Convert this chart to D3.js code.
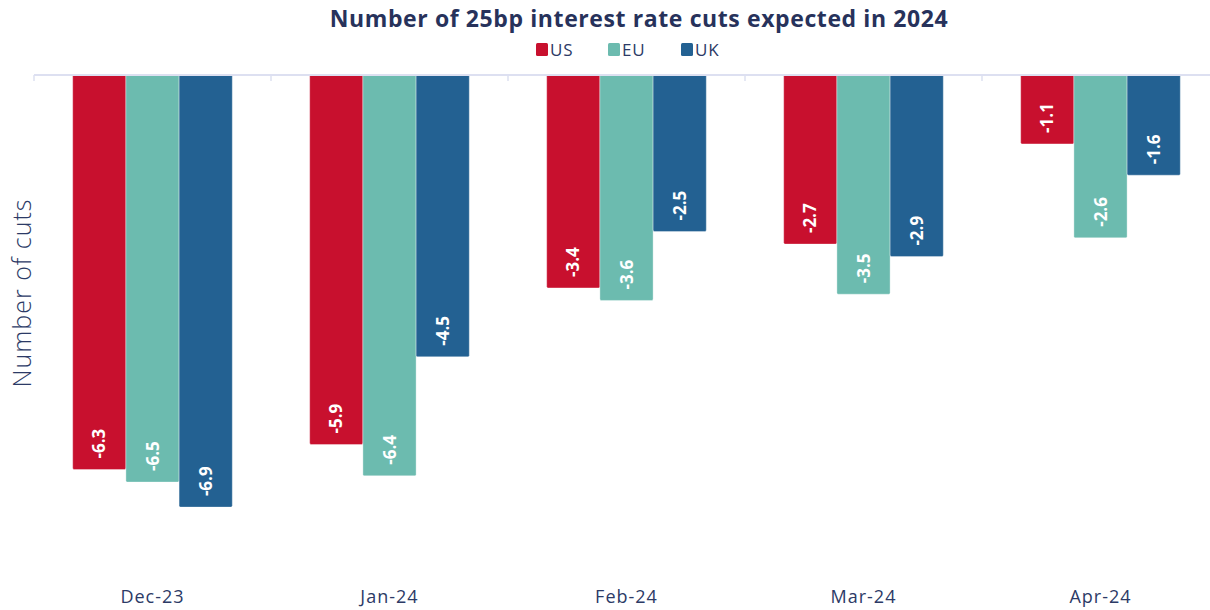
<!DOCTYPE html>
<html>
<head>
<meta charset="utf-8">
<script src="https://cdn.jsdelivr.net/npm/d3@7"></script>
<style>
  body { margin: 0; background: #fff; }
  svg { display: block; font-family: "Open Sans", "Noto Sans", sans-serif; }
</style>
</head>
<body>
<div id="chart"></div>
<script>
// chart data
const months = ["Dec-23", "Jan-24", "Feb-24", "Mar-24", "Apr-24"];
const seriesNames = ["US", "EU", "UK"];
const usCuts = [-6.3, -5.9, -3.4, -2.7, -1.1];
const euCuts = [-6.5, -6.4, -3.6, -3.5, -2.6];
const ukCuts = [-6.9, -4.5, -2.5, -2.9, -1.6];
const colors = ["#c8102e", "#6cbbaf", "#236192"];

const width = 1210, height = 610;
const margin = { top: 75, right: -9, bottom: 34, left: 34 };

const svg = d3.select("#chart").append("svg")
    .attr("width", width)
    .attr("height", height);

const rows = months.map((m, i) => ({
    month: m,
    values: [usCuts[i], euCuts[i], ukCuts[i]]
}));

// scales
const x0 = d3.scaleBand()
    .domain(months)
    .range([margin.left, width - margin.right])
    .paddingInner(0)
    .paddingOuter(0);

const x1 = d3.scaleBand()
    .domain(seriesNames)
    .range([38.7, x0.bandwidth() - 38.7])
    .padding(0);

const y = d3.scaleLinear()
    .domain([-8, 0])
    .range([height - margin.bottom, margin.top]);

// plain hyphen instead of unicode minus
const fmt = v => d3.format(".1f")(v).replace("\u2212", "-");

// title
svg.append("text")
    .attr("x", 639)
    .attr("y", 27)
    .attr("text-anchor", "middle")
    .attr("font-size", 23)
    .attr("font-weight", 700)
    .attr("letter-spacing", 0.6)
    .attr("fill", "#27325b")
    .text("Number of 25bp interest rate cuts expected in 2024");

// legend
const legendX = [536, 608, 681];
const legend = svg.append("g");
seriesNames.forEach((s, i) => {
    legend.append("rect")
        .attr("x", legendX[i])
        .attr("y", 43)
        .attr("width", 12)
        .attr("height", 13)
        .attr("rx", 1.5)
        .attr("fill", colors[i]);
    legend.append("text")
        .attr("x", legendX[i] + 14)
        .attr("y", 56)
        .attr("font-size", 17)
        .attr("letter-spacing", 0.8)
        .attr("fill", "#2c3a66")
        .text(s);
});

// bars
const groups = svg.append("g")
    .selectAll("g")
    .data(rows)
    .join("g")
    .attr("transform", d => `translate(${x0(d.month)},0)`);

groups.selectAll("rect")
    .data(d => d.values.map((v, i) => ({ key: seriesNames[i], value: v, idx: i })))
    .join("rect")
    .attr("x", d => x1(d.key))
    .attr("y", y(0))
    .attr("width", x1.bandwidth())
    .attr("height", d => y(d.value) - y(0))
    .attr("rx", 1.5)
    .attr("fill", d => colors[d.idx])
    .attr("stroke", "rgba(255,255,255,0.35)")
    .attr("stroke-width", 1);

// value labels inside bars, reading upward
groups.selectAll("text.val")
    .data(d => d.values.map((v, i) => ({ key: seriesNames[i], value: v })))
    .join("text")
    .attr("class", "val")
    .attr("transform", d => `translate(${x1(d.key) + x1.bandwidth() / 2 + 6},${y(d.value) - 11}) rotate(-90)`)
    .attr("text-anchor", "start")
    .attr("font-size", 17)
    .attr("font-weight", 700)
    .attr("fill", "#fff")
    .text(d => fmt(d.value));

// zero line with ticks
const axis = svg.append("g");
axis.append("line")
    .attr("x1", margin.left)
    .attr("x2", width)
    .attr("y1", y(0))
    .attr("y2", y(0))
    .attr("stroke", "#dde0f1")
    .attr("stroke-width", 2);
axis.selectAll("line.tick")
    .data(months)
    .join("line")
    .attr("class", "tick")
    .attr("x1", d => x0(d))
    .attr("x2", d => x0(d))
    .attr("y1", y(0))
    .attr("y2", y(0) + 6)
    .attr("stroke", "#dde0f1")
    .attr("stroke-width", 1.5);

// category labels
svg.append("g")
    .selectAll("text")
    .data(months)
    .join("text")
    .attr("x", d => x0(d) + x0.bandwidth() / 2)
    .attr("y", 603)
    .attr("text-anchor", "middle")
    .attr("font-size", 18)
    .attr("letter-spacing", 1)
    .attr("fill", "#2c3a66")
    .text(d => d);

// y axis title
svg.append("text")
    .attr("transform", "translate(31,293) rotate(-90)")
    .attr("text-anchor", "middle")
    .attr("font-size", 25)
    .attr("font-weight", 300)
    .attr("letter-spacing", 1)
    .attr("fill", "#2c3a66")
    .text("Number of cuts");
</script>
</body>
</html>
